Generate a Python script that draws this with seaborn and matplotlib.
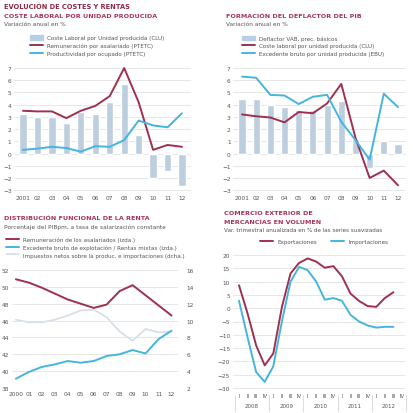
import seaborn as sns
import matplotlib.pyplot as plt
import pandas as pd
from matplotlib.lines import Line2D
from matplotlib.patches import Patch

# ---- data ----
years_a = ['2001', '02', '03', '04', '05', '06', '07', '08', '09', '10', '11', '12']
clu = [3.2, 3.0, 2.95, 2.5, 3.4, 3.25, 4.2, 5.7, 1.5, -2.0, -1.4, -2.7]
remun = [3.5, 3.45, 3.45, 2.9, 3.5, 3.9, 4.7, 7.0, 4.2, 0.3, 0.7, 0.55]
productiv = [0.3, 0.4, 0.55, 0.45, 0.15, 0.6, 0.55, 1.1, 2.7, 2.3, 2.15, 3.3]

deflactor = [4.5, 4.45, 4.0, 3.8, 3.6, 3.6, 4.0, 4.3, 1.2, -1.2, 1.0, 0.75]
clu_line = [3.2, 3.05, 2.95, 2.55, 3.4, 3.3, 4.1, 5.7, 1.3, -2.0, -1.4, -2.6]
ebu = [6.3, 6.2, 4.8, 4.75, 4.05, 4.65, 4.8, 2.6, 1.1, -0.5, 4.9, 3.8]

years_b = ['2000', '01', '02', '03', '04', '05', '06', '07', '08', '09', '10', '11', '12']
remun_pib = [50.9, 50.5, 49.9, 49.2, 48.5, 48.0, 47.5, 47.9, 49.5, 50.2, 49.0, 47.8, 46.6]
excedente = [39.1, 39.9, 40.5, 40.8, 41.2, 41.0, 41.2, 41.8, 42.0, 42.5, 42.1, 43.8, 44.8]
impuestos = [10.1, 9.8, 9.8, 10.1, 10.6, 11.2, 11.3, 10.4, 8.7, 7.6, 9.0, 8.6, 8.7]

quarters = ['I', 'II', 'III', 'IV'] * 5
quarter_years = ['2008', '2009', '2010', '2011', '2012']
exportaciones = [8.6, -2, -14, -21.5, -17, 0.4, 13, 17, 18.7, 17.5, 15.2, 15.8,
                 12, 5.5, 2.7, 0.8, 0.5, 3.8, 6]
importaciones = [2.8, -11, -24, -27.7, -21.8, -5, 9.9, 15.5, 14.3, 10, 3.2, 3.8,
                 2.8, -2.5, -5, -6.5, -7.3, -7, -7]

RED = '#9e3050'
BLUE = '#45b5de'
BAR = '#b7cfe4'
LIGHT = '#d3dee8'
TITLE = '#a8325e'
GRAY = '#555555'
GRID = '#e3e3e3'

sns.set_theme(style='white')
plt.rcParams['font.family'] = ['DejaVu Sans']
W = H = 414
fig = plt.figure(figsize=(4.14, 4.14), dpi=100)


def add_ax(x0, y0, x1, y1):
    return fig.add_axes([x0 / W, 1 - y1 / H, (x1 - x0) / W, (y1 - y0) / H])


def style(ax, ticks):
    ax.set_yticks(ticks)
    ax.grid(axis='y', color=GRID, linewidth=0.6)
    ax.grid(axis='x', visible=False)
    for s in ax.spines.values():
        s.set_visible(False)
    ax.tick_params(axis='both', labelsize=4.2, colors=GRAY, length=0, pad=2)
    ax.set_xlabel('')
    ax.set_ylabel('')


def txt(x, y, s, size=4.3, color=GRAY, bold=False):
    fig.text(x / W, 1 - y / H, s, fontsize=size, color=color,
             fontweight='bold' if bold else 'normal', va='center', ha='left')


def legend(x, y, handles, labels, ncol=1):
    fig.legend(handles, labels, loc='upper left', bbox_to_anchor=(x / W, 1 - y / H),
               frameon=False, fontsize=4.1, handlelength=2.2, handleheight=0.8,
               labelspacing=0.45, ncol=ncol, columnspacing=2.5, borderaxespad=0,
               labelcolor=GRAY)


txt(4, 7, 'EVOLUCIÓN DE COSTES Y RENTAS', 4.8, '#8c2a45', True)

# ---- panel 1 ----
txt(4, 17, 'COSTE LABORAL POR UNIDAD PRODUCIDA', 4.6, TITLE, True)
txt(4, 25, 'Variación anual en %', 4.2)
df1 = pd.DataFrame({'pos': range(12), 'clu': clu, 'remun': remun, 'prod': productiv})
ax1 = add_ax(14.3, 66.6, 190.7, 193.6)
sns.barplot(data=df1, x='pos', y='clu', color=BAR, width=0.5, ax=ax1, zorder=2)
sns.lineplot(data=df1, x='pos', y='remun', color=RED, linewidth=1.4, ax=ax1, zorder=3)
sns.lineplot(data=df1, x='pos', y='prod', color=BLUE, linewidth=1.4, ax=ax1, zorder=3)
ax1.set_xlim(-0.6, 11.6)
ax1.set_ylim(-3.2, 7.2)
ax1.set_xticks(range(12))
ax1.set_xticklabels(years_a)
style(ax1, range(-3, 8))
legend(28, 34, [Patch(color=BAR), Line2D([], [], color=RED, lw=1.4),
                Line2D([], [], color=BLUE, lw=1.4)],
       ['Coste Laboral por Unidad producida (CLU)', 'Remuneración por asalariado (PTETC)',
        'Productividad por ocupado (PTETC)'])

# ---- panel 2 ----
txt(226, 17, 'FORMACIÓN DEL DEFLACTOR DEL PIB', 4.6, TITLE, True)
txt(226, 25, 'Variación anual en %', 4.2)
df2 = pd.DataFrame({'pos': range(12), 'defl': deflactor, 'clu': clu_line, 'ebu': ebu})
ax2 = add_ax(233.5, 66.6, 406.5, 193.6)
sns.barplot(data=df2, x='pos', y='defl', color=BAR, width=0.5, ax=ax2, zorder=2)
sns.lineplot(data=df2, x='pos', y='clu', color=RED, linewidth=1.4, ax=ax2, zorder=3)
sns.lineplot(data=df2, x='pos', y='ebu', color=BLUE, linewidth=1.4, ax=ax2, zorder=3)
ax2.set_xlim(-0.6, 11.6)
ax2.set_ylim(-3.2, 7.2)
ax2.set_xticks(range(12))
ax2.set_xticklabels(years_a)
style(ax2, range(-3, 8))
legend(240, 34, [Patch(color=BAR), Line2D([], [], color=RED, lw=1.4),
                 Line2D([], [], color=BLUE, lw=1.4)],
       ['Deflactor VAB, prec. básicos', 'Coste laboral por unidad producida (CLU)',
        'Excedente bruto por unidad producida (EBU)'])

# ---- panel 3 ----
txt(4, 219, 'DISTRIBUCIÓN FUNCIONAL DE LA RENTA', 4.6, TITLE, True)
txt(4, 227, 'Porcentaje del PIBpm, a tasa de salarización constante', 4.2)
df3 = pd.DataFrame({'pos': range(13), 'rem': remun_pib, 'exc': excedente, 'imp': impuestos})
ax3 = add_ax(12, 271, 178, 389)
ax3r = ax3.twinx()
sns.lineplot(data=df3, x='pos', y='imp', color=LIGHT, linewidth=1.2, ax=ax3r)
sns.lineplot(data=df3, x='pos', y='rem', color=RED, linewidth=1.4, ax=ax3)
sns.lineplot(data=df3, x='pos', y='exc', color=BLUE, linewidth=1.4, ax=ax3)
ax3.set_zorder(ax3r.get_zorder() + 1)
ax3.patch.set_visible(False)
ax3.set_xlim(-0.3, 12.5)
ax3.set_ylim(38, 52)
ax3r.set_ylim(2, 16)
ax3.set_xticks(range(13))
ax3.set_xticklabels(years_b)
style(ax3, range(38, 53, 2))
style(ax3r, range(2, 17, 2))
ax3r.grid(False)
ax3r.tick_params(axis='y', pad=6)
legend(4, 235, [Line2D([], [], color=RED, lw=1.4), Line2D([], [], color=BLUE, lw=1.4),
                Line2D([], [], color=LIGHT, lw=1.2)],
       ['Remuneración de los asalariados (izda.)',
        'Excedente bruto de explotación / Rentas mixtas (izda.)',
        'Impuestos netos sobre la produc. e importaciones (dcha.)'])

# ---- panel 4 ----
txt(224, 214, 'COMERCIO EXTERIOR DE', 4.6, TITLE, True)
txt(224, 222, 'MERCANCÍAS EN VOLUMEN', 4.6, TITLE, True)
txt(224, 231, 'Var. trimestral anualizada en % de las series suavizadas', 4.1)
df4 = pd.DataFrame({'pos': range(19), 'exp': exportaciones, 'imp': importaciones})
ax4 = add_ax(233, 253.3, 405.4, 391.7)
sns.lineplot(data=df4, x='pos', y='exp', color=RED, linewidth=1.4, ax=ax4)
sns.lineplot(data=df4, x='pos', y='imp', color=BLUE, linewidth=1.4, ax=ax4)
ax4.set_xlim(-0.7, 19.4)
ax4.set_ylim(-31, 21)
ax4.set_xticks(range(20))
ax4.set_xticklabels(quarters)
style(ax4, range(-30, 21, 5))
ax4.tick_params(axis='x', labelsize=3.8, pad=1.5)
for i, yr in enumerate(quarter_years):
    ax4.text(i * 4 + 1.5, -0.11, yr, transform=ax4.get_xaxis_transform(),
             fontsize=4.0, color=GRAY, ha='center', va='center')
for i in range(6):
    ax4.plot([i * 4 - 0.5] * 2, [-0.15, -0.03], transform=ax4.get_xaxis_transform(),
             color='#cccccc', lw=0.5, clip_on=False)
legend(258, 238, [Line2D([], [], color=RED, lw=1.4), Line2D([], [], color=BLUE, lw=1.4)],
       ['Exportaciones', 'Importaciones'], ncol=2)

fig.savefig('out.png', dpi=100)
